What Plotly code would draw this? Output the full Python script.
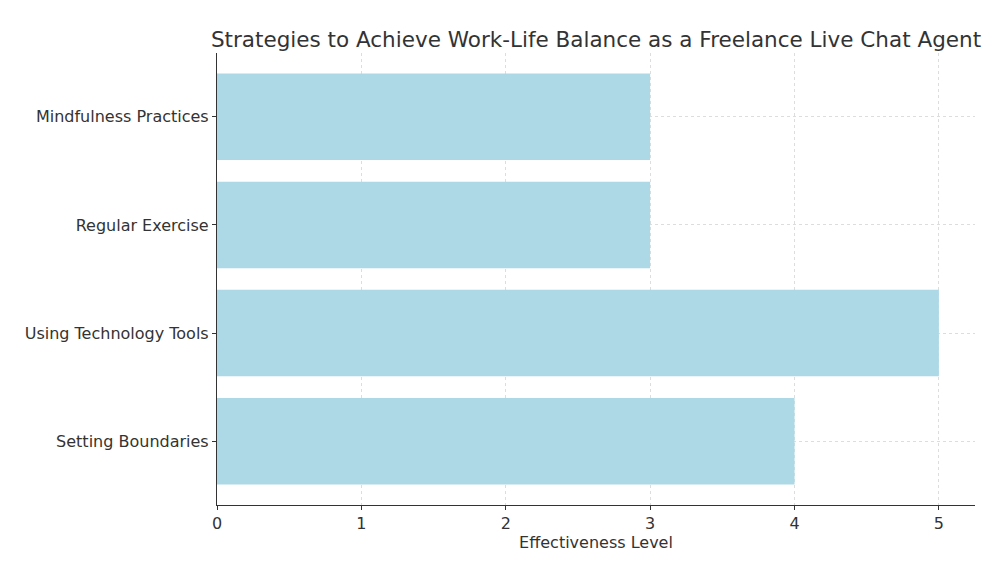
import plotly.graph_objects as go

categories = ["Setting Boundaries", "Using Technology Tools", "Regular Exercise", "Mindfulness Practices"]
values = [4, 5, 3, 3]
title_text = "Strategies to Achieve Work-Life Balance as a Freelance Live Chat Agent"
x_title = "Effectiveness Level"

fig = go.Figure(go.Bar(
    x=values, y=categories, orientation="h",
    marker=dict(color="#ADD8E6", line=dict(width=0)),
    width=0.8,
))

font_family = "DejaVu Sans"
fig.update_layout(
    width=1004, height=569,
    margin=dict(l=209, r=37, t=45, b=72),
    paper_bgcolor="white", plot_bgcolor="white",
    font=dict(family=font_family, color="#333333", size=16),
    title=dict(text=title_text, x=0.5, xref="paper", xanchor="center",
               y=1, yref="paper", yanchor="bottom", pad=dict(b=6),
               font=dict(size=21.5, color="#333333")),
    showlegend=False,
    bargap=0.2,
)
fig.update_xaxes(
    range=[0, 5.25], dtick=1, tick0=0,
    showline=True, linecolor="#333333", linewidth=1.2,
    ticks="outside", ticklen=4, tickcolor="#333333",
    showgrid=True, gridcolor="#dddddd", griddash="3px,3px", gridwidth=0.8,
    zeroline=False,
    title=dict(text=x_title, font=dict(size=16), standoff=4),
    tickfont=dict(size=16),
)
fig.update_yaxes(
    range=[-0.59, 3.59],
    categoryorder="array", categoryarray=categories,
    showline=True, linecolor="#333333", linewidth=1.2,
    ticks="outside", ticklen=4, tickcolor="#333333",
    showgrid=True, gridcolor="#dddddd", griddash="3px,3px", gridwidth=0.8,
    zeroline=False,
    tickfont=dict(size=16),
)

fig.write_html("out.html")
